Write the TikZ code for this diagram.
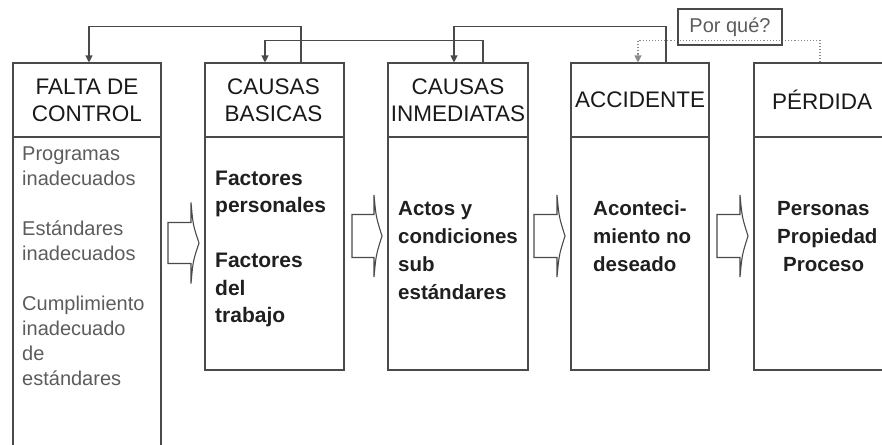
\documentclass[tikz,border=0pt]{standalone}
\usepackage{fontspec}
\setmainfont{Liberation Sans}
\usetikzlibrary{arrows.meta}
\definecolor{linec}{HTML}{4A4A4A}
\definecolor{bodygray}{HTML}{5C5C5C}
\definecolor{dotc}{HTML}{8A8A8A}
\tikzset{
  box/.style={draw=linec, line width=1.1pt, inner sep=0pt},
  sep/.style={draw=linec, line width=1.1pt},
  hdr/.style={align=center, inner sep=0pt, text=black!90, font=\fontsize{22.5}{27}\selectfont},
  graybody/.style={align=left, anchor=base west, inner sep=0pt, text=bodygray, font=\fontsize{20}{25}\selectfont},
  boldbody/.style={align=left, anchor=base west, inner sep=0pt, text=black!88, font=\bfseries\fontsize{21}{27.5}\selectfont},
  boldbodyb/.style={align=left, anchor=base west, inner sep=0pt, text=black!88, font=\bfseries\fontsize{20.5}{28}\selectfont},
  fb/.style={draw=linec, line width=1.1pt, -{Triangle[length=7pt,width=7pt]}},
  fbdot/.style={draw=dotc, line width=1.1pt, dotted, -{Triangle[length=7pt,width=7pt]}},
  blockarrow/.style={draw=linec, line width=1.1pt, fill=white},
  whybox/.style={draw=linec, line width=1.1pt, minimum width=104pt, minimum height=36pt, inner sep=0pt, text=bodygray, font=\fontsize{20}{24}\selectfont}
}
\begin{document}
\begin{tikzpicture}[x=1pt,y=-1pt]
\useasboundingbox (0,0) rectangle (882,444);
\clip (0,0) rectangle (882,444);

% main boxes
\node[box, minimum width=148pt, minimum height=389pt] (b1) at (87,257.5) {};
\node[box, minimum width=139pt, minimum height=307pt] (b2) at (274.5,216.5) {};
\node[box, minimum width=140pt, minimum height=307pt] (b3) at (458,216.5) {};
\node[box, minimum width=138pt, minimum height=307pt] (b4) at (640,216.5) {};
\node[box, minimum width=141pt, minimum height=307pt] (b5) at (824.5,216.5) {};

% header separators
\foreach \b in {b1,b2,b3,b4,b5}
  \draw[sep] (\b.west |- 0,137) -- (\b.east |- 0,137);

% headers
\node[hdr] (h1) at (87,100) {FALTA DE\\CONTROL};
\node[hdr] (h2) at (273.5,100) {CAUSAS\\BASICAS};
\node[hdr] (h3) at (458,100) {CAUSAS\\INMEDIATAS};
\node[hdr] (h4) at (640,100) {ACCIDENTE};
\node[hdr] (h5) at (822,100) {PÉRDIDA};

% bodies (anchor = baseline of the last line)
\node[graybody] (t1) at (22,385) {Programas\\inadecuados\\[25pt]Estándares\\inadecuados\\[25pt]Cumplimiento\\inadecuado\\de\\estándares};
\node[boldbody] (t2) at (215,322.5) {Factores\\personales\\[27.5pt]Factores\\del\\trabajo};
\node[boldbodyb] (t3) at (398,299) {Actos y\\condiciones\\sub\\estándares};
\node[boldbodyb] (t4) at (593,271) {Aconteci-\\miento no\\deseado};
\node[boldbodyb] (t5) at (777,271) {Personas\\Propiedad\\\hspace*{6pt}Proceso};

% block arrows
\draw[blockarrow] (168,222.5) -- (191,222.5) -- (191,202.5) .. controls (193,225) .. (199,243) .. controls (193,261) .. (191,283.5) -- (191,263.5) -- (168,263.5) -- cycle;
\draw[blockarrow] (352,214.5) -- (374,214.5) -- (374,195) .. controls (376,217) .. (382,236) .. controls (376,255) .. (374,277) -- (374,257.5) -- (352,257.5) -- cycle;
\draw[blockarrow] (534,214.5) -- (557,214.5) -- (557,195) .. controls (559,217) .. (565,236) .. controls (559,255) .. (557,277) -- (557,257.5) -- (534,257.5) -- cycle;
\draw[blockarrow] (717,214.5) -- (740,214.5) -- (740,195) .. controls (742,217) .. (748,236) .. controls (742,255) .. (740,277) -- (740,257.5) -- (717,257.5) -- cycle;

% feedback arrows
\draw[fb] ([xshift=26.5pt]b2.north) -- ++(0,-36) -| ([xshift=2pt]b1.north);
\draw[fb] ([xshift=25pt]b3.north) -- ++(0,-22) -| ([xshift=-9.5pt]b2.north);
\draw[fb] ([xshift=26pt]b4.north) -- ++(0,-36) -| ([xshift=-4pt]b3.north);
\draw[fbdot] ([xshift=-4.5pt]b5.north) -- ++(0,-22) -| ([xshift=-2pt]b4.north);

% why box
\node[whybox] (why) at (730,27) {Por qué?};
\end{tikzpicture}
\end{document}
